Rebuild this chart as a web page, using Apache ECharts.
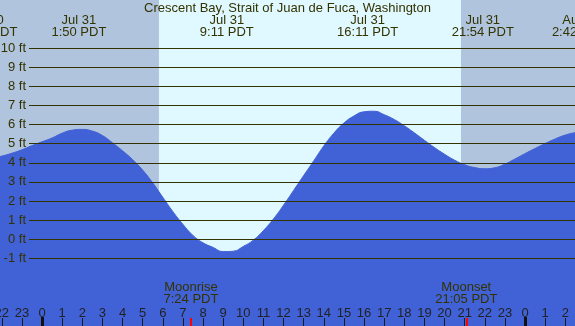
<!DOCTYPE html>
<html>
<head>
<meta charset="utf-8">
<script src="https://cdn.jsdelivr.net/npm/echarts@6/dist/echarts.min.js"></script>
<style>
  html, body { margin: 0; padding: 0; }
  #chart { width: 575px; height: 326px; }
</style>
</head>
<body>
<div id="chart"></div>
<script>
// hours from Jul 31 00:00 PDT
const viewStart = -2.087, viewEnd = 26.484;
// tide heights (ft) read every half hour, from Jul 30 21:00 PDT
const tideStartHour = -3, tideStep = 0.5;
const tideFeet = [
  4.20, 4.24, 4.35, 4.50, 4.68, 4.90, 5.10, 5.30, 5.55, 5.71,   // -3 .. 1.5
  5.75, 5.66, 5.43, 5.05, 4.63, 4.17, 3.62, 2.95, 2.20, 1.45,   // 2 .. 6.5
  0.78, 0.20, -0.19, -0.43, -0.65, -0.63, -0.38, -0.05, 0.45, 1.06, // 7 .. 11.5
  1.78, 2.55, 3.33, 4.10, 4.88, 5.55, 6.08, 6.45, 6.67, 6.70,   // 12 .. 16.5
  6.52, 6.27, 5.94, 5.57, 5.18, 4.80, 4.45, 4.14, 3.90, 3.75,   // 17 .. 21.5
  3.69, 3.74, 3.93, 4.20, 4.48, 4.75, 5.01, 5.25, 5.45, 5.58,   // 22 .. 26.5
  5.63                                                          // 27
];
const sunrise = 5.81, sunset = 20.82;
const extremeHours = [-2.767, 1.833, 9.183, 16.183, 21.9, 26.7];
const extremeLabels = ['Jul 30\n21:14 PDT', 'Jul 31\n1:50 PDT', 'Jul 31\n9:11 PDT', 'Jul 31\n16:11 PDT', 'Jul 31\n21:54 PDT', 'Aug 1\n2:42 PDT'];
const moonHours = [7.4, 21.083];
const moonLabels = ['Moonrise\n7:24 PDT', 'Moonset\n21:05 PDT'];
const hourTicks = [-2, -1, 0, 1, 2, 3, 4, 5, 6, 7, 8, 9, 10, 11, 12, 13, 14, 15, 16, 17, 18, 19, 20, 21, 22, 23, 24, 25, 26];
const midnightTicks = [0, 24];
const feetMin = -1, feetMax = 10;

const font = 'Liberation Sans';
const textColor = '#333300';
const fontSize = 13;

let chart = echarts.init(document.getElementById('chart'));

function labelSeries(hours, labels, y, vAlign) {
  return {
    type: 'custom',
    xAxisIndex: 0, yAxisIndex: 0,
    clip: false,
    silent: true,
    z: 6,
    data: hours.map(h => [h, 0]),
    renderItem: function (params, api) {
      let x = api.coord([api.value(0), 0])[0];
      return {
        type: 'text',
        x: x, y: y,
        style: {
          text: labels[params.dataIndex],
          align: 'center',
          verticalAlign: vAlign,
          fill: textColor,
          fontSize: fontSize,
          fontFamily: font,
          lineHeight: 12
        }
      };
    }
  };
}

function bottomAxis(extra) {
  return Object.assign({
    type: 'value', gridIndex: 0, min: viewStart, max: viewEnd, position: 'bottom', offset: 0,
    splitLine: { show: false }, axisLine: { show: false, onZero: false },
    axisLabel: { show: false }, z: 5
  }, extra);
}

let option = {
  animation: false,
  title: {
    text: 'Crescent Bay, Strait of Juan de Fuca, Washington',
    left: 'center', top: 2, padding: 0,
    textStyle: { fontSize: fontSize, fontWeight: 'normal', color: textColor, fontFamily: font }
  },
  grid: [
    { left: 0, right: 0, top: 0, bottom: 0, show: true, backgroundColor: '#E0F8FF', borderWidth: 0,
      containLabel: false, outerBoundsMode: 'none' },
    { left: 29, right: 0, top: 48.2, height: 210.1, containLabel: false, outerBoundsMode: 'none' }
  ],
  xAxis: [
    bottomAxis({
      axisTick: { inside: true, length: 8, customValues: hourTicks, lineStyle: { color: '#1a1a1a', width: 1 } },
      axisLabel: {
        show: true, inside: true, margin: 6, customValues: hourTicks, color: '#222', fontSize: fontSize, fontFamily: font,
        formatter: v => String(((Math.round(v) % 24) + 24) % 24)
      }
    }),
    bottomAxis({
      axisTick: { inside: true, length: 9, customValues: midnightTicks, lineStyle: { color: '#111', width: 3 } }
    }),
    bottomAxis({
      axisTick: { inside: true, length: 8, customValues: moonHours, lineStyle: { color: '#ff0000', width: 2 } }
    }),
    { type: 'value', gridIndex: 1, show: false, min: 0, max: 1 }
  ],
  yAxis: [
    {
      type: 'value', gridIndex: 0, min: -4.545, max: 12.524,
      show: false, splitLine: { show: false }
    },
    {
      type: 'value', gridIndex: 1, min: feetMin, max: feetMax, interval: 1,
      axisLine: { show: false }, axisTick: { show: false },
      splitLine: { show: true, lineStyle: { color: '#333300', width: 1 } },
      axisLabel: { formatter: '{value} ft', color: textColor, fontSize: fontSize, fontFamily: font, margin: 3 },
      z: 5
    }
  ],
  series: [
    {
      type: 'line', xAxisIndex: 0, yAxisIndex: 0, data: [], silent: true, z: 1,
      markArea: {
        silent: true,
        itemStyle: { color: '#B0C4DE' },
        data: [
          [{ xAxis: viewStart }, { xAxis: sunrise }],
          [{ xAxis: sunset }, { xAxis: viewEnd }]
        ]
      }
    },
    {
      type: 'line', xAxisIndex: 0, yAxisIndex: 0, z: 2,
      data: tideFeet.map((v, i) => [tideStartHour + tideStep * i, v]),
      smooth: true, symbol: 'none', silent: true,
      lineStyle: { color: '#4161d6', width: 1 },
      areaStyle: { color: '#4161d6', opacity: 1, origin: 'start' }
    },
    labelSeries(extremeHours, extremeLabels, 14.5, 'top'),
    labelSeries(moonHours, moonLabels, 305.5, 'bottom')
  ]
};

chart.setOption(option);
</script>
</body>
</html>
